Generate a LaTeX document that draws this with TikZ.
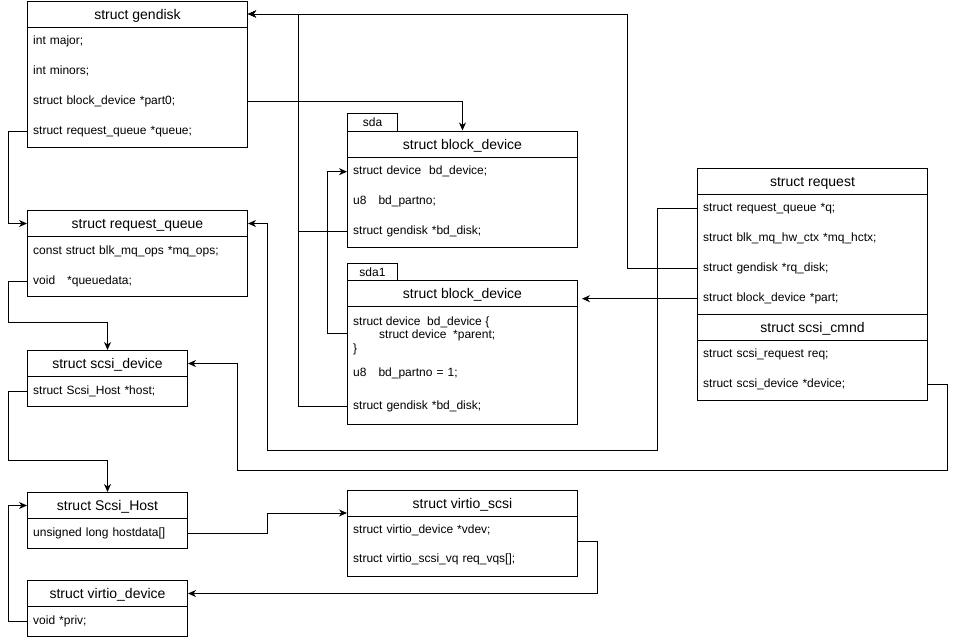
\documentclass[tikz,border=0pt]{standalone}
\usepackage{fontspec}
\setmainfont{Liberation Sans}
\usetikzlibrary{arrows.meta}
\newcommand\rowfont{\fontsize{12}{14}\selectfont}
\newcommand\headfont{\fontsize{14}{16}\selectfont}
\tikzset{
  box/.style={draw, line width=1pt, fill=white, inner sep=0pt, anchor=north west},
  head/.style={draw, line width=1pt, inner sep=0pt, anchor=north west, minimum height=26pt,
    text height=10pt, text depth=0pt, font=\headfont},
  row/.style={inner xsep=6pt, inner ysep=0pt, anchor=north west, minimum height=30pt,
    text height=6pt, text depth=0pt, align=left, font=\rowfont, text width=#1},
  txt/.style={inner sep=0pt, anchor=base west, font=\rowfont},
  tabbox/.style={draw, line width=1pt, fill=white, anchor=north west, minimum width=50pt,
    minimum height=17.5pt, inner sep=0pt, text height=8.6pt, text depth=0pt, font=\rowfont},
  conn/.style={line width=1pt, -{Stealth[length=8pt,width=7pt,inset=2.5pt]}}
}
\begin{document}
\begin{tikzpicture}[x=1pt,y=-1pt]
\useasboundingbox (0,0) rectangle (956,640);

% struct gendisk
\node[box, minimum width=220pt, minimum height=146pt] (gendisk) at (27,0.5) {};
\node[head, minimum width=220pt] (gd-head) at (27,0.5) {struct gendisk};
\node[row=208pt] (gd-major) at (27,26.5) {int major;};
\node[row=208pt] (gd-minors) at (27,56.5) {int minors;};
\node[row=208pt] (gd-part0) at (27,86.5) {struct block\_device *part0;};
\node[row=208pt] (gd-queue) at (27,116.5) {struct request\_queue *queue;};

% struct request_queue
\node[box, minimum width=220pt, minimum height=86pt] (reqq) at (27,210) {};
\node[head, minimum width=220pt] (rqq-head) at (27,210) {struct request\_queue};
\node[row=208pt] (rqq-ops) at (27,236) {const struct blk\_mq\_ops *mq\_ops;};
\node[row=208pt] (rqq-qdata) at (27,266) {void\ \ \ *queuedata;};

% struct scsi_device
\node[box, minimum width=160pt, minimum height=56pt] (scsidev) at (27,350) {};
\node[head, minimum width=160pt] (sd-head) at (27,350) {struct scsi\_device};
\node[row=148pt] (sd-host) at (27,376) {struct Scsi\_Host *host;};

% struct Scsi_Host
\node[box, minimum width=160pt, minimum height=56pt] (host) at (27,492) {};
\node[head, minimum width=160pt] (host-head) at (27,492) {struct Scsi\_Host};
\node[row=148pt] (host-data) at (27,518) {unsigned long hostdata[]};

% struct virtio_device
\node[box, minimum width=160pt, minimum height=56pt] (vdev) at (27,580) {};
\node[head, minimum width=160pt] (vd-head) at (27,580) {struct virtio\_device};
\node[row=148pt] (vd-priv) at (27,606) {void *priv;};

% sda block_device
\node[tabbox] (sda-tab) at (347,113) {sda};
\node[box, minimum width=230pt, minimum height=116pt] (sda) at (347,130.5) {};
\node[head, minimum width=230pt] (sda-head) at (347,130.5) {struct block\_device};
\node[row=218pt] (sda-dev) at (347,156.5) {struct device\ \ bd\_device;};
\node[row=218pt] (sda-partno) at (347,186.5) {u8\ \ \ bd\_partno;};
\node[row=218pt] (sda-disk) at (347,216.5) {struct gendisk *bd\_disk;};

% sda1 block_device
\node[tabbox, minimum height=17pt] (sda1-tab) at (347,263) {sda1};
\node[box, minimum width=230pt, minimum height=144pt] (sda1) at (347,280) {};
\node[head, minimum width=230pt] (sda1-head) at (347,280) {struct block\_device};
\node[row=218pt, minimum height=54pt] (sda1-dev) at (347,306) {};
\node[txt] (sda1-l1) at (353,325) {struct device\ \ bd\_device \{};
\node[txt] (sda1-l2) at (379,338.5) {struct device\ \ *parent;};
\node[txt] (sda1-l3) at (353,352) {\}};
\node[row=218pt] (sda1-partno) at (347,358) {u8\ \ \ bd\_partno = 1;};
\node[row=218pt] (sda1-disk) at (347,391.5) {struct gendisk *bd\_disk;};

% struct virtio_scsi
\node[box, minimum width=230pt, minimum height=86pt] (vscsi) at (347,490) {};
\node[head, minimum width=230pt] (vs-head) at (347,490) {struct virtio\_scsi};
\node[row=218pt] (vs-vdev) at (347,515) {struct virtio\_device *vdev;};
\node[row=218pt] (vs-vqs) at (347,544) {struct virtio\_scsi\_vq req\_vqs[];};

% struct request / scsi_cmnd
\node[box, minimum width=230pt, minimum height=232pt] (request) at (697,167.5) {};
\node[head, minimum width=230pt] (req-head) at (697,167.5) {struct request};
\node[row=218pt] (req-q) at (697,193.5) {struct request\_queue *q;};
\node[row=218pt] (req-hctx) at (697,223.5) {struct blk\_mq\_hw\_ctx *mq\_hctx;};
\node[row=218pt] (req-disk) at (697,253.5) {struct gendisk *rq\_disk;};
\node[row=218pt] (req-part) at (697,283.5) {struct block\_device *part;};
\node[head, minimum width=230pt] (cmnd-head) at (697,313.5) {struct scsi\_cmnd};
\node[row=218pt] (req-sreq) at (697,339.5) {struct scsi\_request req;};
\node[row=218pt] (req-dev) at (697,369.5) {struct scsi\_device *device;};

% connectors
\draw[conn] (gd-part0.east) -| (sda.north);
\draw[conn] (gd-queue.west) -- ++(-19,0) |- (rqq-head.west);
\draw[conn] (rqq-qdata.west) -- ++(-19,0) -- ++(0,41) -| (scsidev.north);
\draw[conn] (sd-host.west) -- ++(-19,0) -- ++(0,69) -| (host.north);
\draw[conn] (vd-priv.west) -- ++(-19,0) |- (host-head.west);
\draw[conn] (host-data.east) -- ++(80,0) |- ([yshift=4pt]vs-head.south west);
\draw[conn] ([yshift=18pt]vs-vqs.east) -- ++(20,0) |- (vd-head.east);
\draw[conn] (sda-disk.west) -- ++(-49,0) |- (gd-head.east);
\draw[conn] (sda1-disk.west) -- ++(-49,0) |- (gd-head.east);
\draw[conn] (sda1-dev.west) -- ++(-20,0) |- (sda-dev.west);
\draw[conn] (req-q.west) -- ++(-40,0) -- ++(0,241.5) -- ++(-390,0) |- (rqq-head.east);
\draw[conn] (req-disk.west) -- ++(-70,0) |- (gd-head.east);
\draw[conn, shorten >=4pt] (req-part.west) -- (req-part.west -| sda1.east);
\draw[conn] (req-dev.east) -- ++(20,0) -- ++(0,85.5) -- ++(-710,0) |- (sd-head.east);
\end{tikzpicture}
\end{document}
